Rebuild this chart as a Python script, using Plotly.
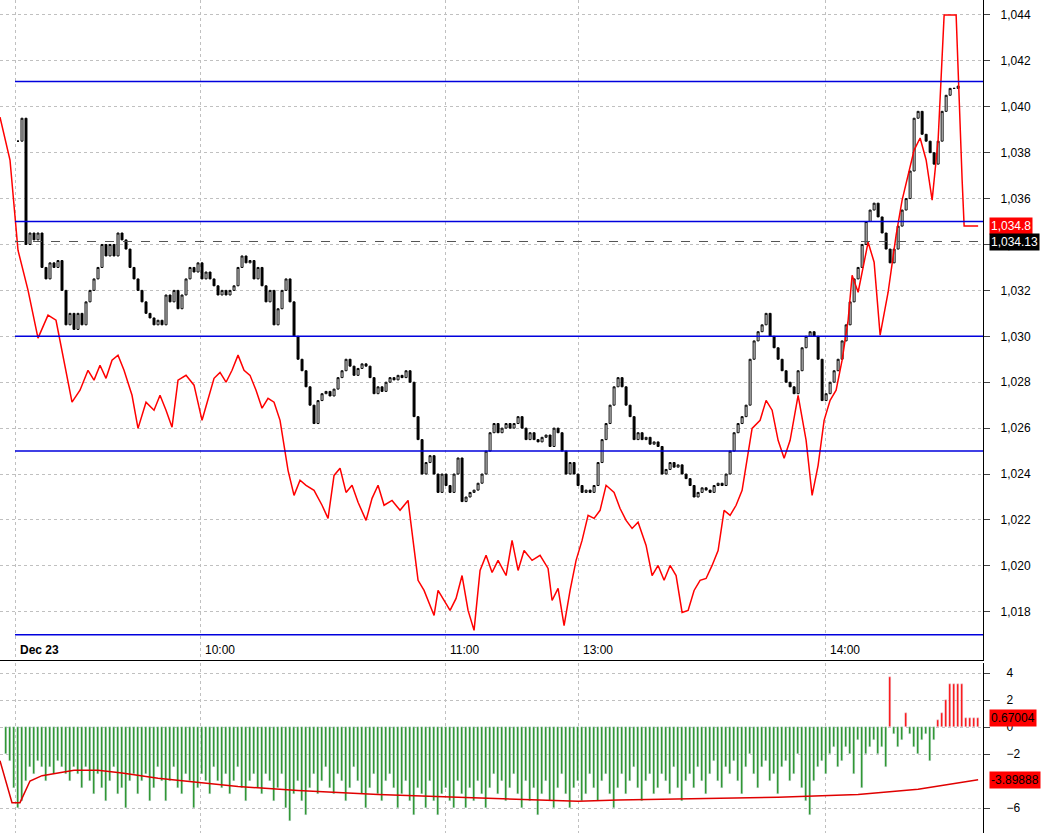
import plotly.graph_objects as go

# candle closes, one per bar (open = previous close)
closes = [1.0385, 1.0395, 1.0340, 1.0345, 1.0342, 1.0345, 1.0330, 1.0325, 1.0332, 1.0330,
          1.0333, 1.0320, 1.0305, 1.0310, 1.0303, 1.0310, 1.0305, 1.0315, 1.0320, 1.0325,
          1.0330, 1.0340, 1.0335, 1.0340, 1.0335, 1.0345, 1.0342, 1.0338, 1.0330, 1.0325,
          1.0320, 1.0315, 1.0310, 1.0308, 1.0305, 1.0307, 1.0305, 1.0318, 1.0315, 1.0320,
          1.0312, 1.0318, 1.0325, 1.0330, 1.0328, 1.0332, 1.0325, 1.0328, 1.0325, 1.0322,
          1.0318, 1.0320, 1.0318, 1.0320, 1.0322, 1.0330, 1.0335, 1.0332, 1.0333, 1.0325,
          1.0330, 1.0322, 1.0315, 1.0320, 1.0305, 1.0312, 1.0320, 1.0325, 1.0315, 1.0300,
          1.0290, 1.0285, 1.0278, 1.0270, 1.0262, 1.0272, 1.0275, 1.0276, 1.0274, 1.0277,
          1.0282, 1.0285, 1.0290, 1.0287, 1.0283, 1.0286, 1.0288, 1.0287, 1.0282, 1.0275,
          1.0278, 1.0276, 1.0280, 1.0282, 1.0281, 1.0283, 1.0282, 1.0285, 1.0280, 1.0265,
          1.0255, 1.0240, 1.0245, 1.0248, 1.0240, 1.0232, 1.0240, 1.0235, 1.0232, 1.0240,
          1.0247, 1.0228, 1.0230, 1.0232, 1.0233, 1.0236, 1.0240, 1.0250, 1.0258, 1.0262,
          1.0258, 1.0260, 1.0262, 1.0260, 1.0262, 1.0265, 1.0260, 1.0255, 1.0258, 1.0255,
          1.0254, 1.0256, 1.0257, 1.0252, 1.0260, 1.0258, 1.0250, 1.0240, 1.0245, 1.0240,
          1.0235, 1.0232, 1.0233, 1.0232, 1.0235, 1.0245, 1.0255, 1.0262, 1.0270, 1.0278,
          1.0282, 1.0278, 1.0270, 1.0265, 1.0255, 1.0258, 1.0255, 1.0256, 1.0253, 1.0254,
          1.0252, 1.0240, 1.0242, 1.0245, 1.0243, 1.0244, 1.0240, 1.0238, 1.0235, 1.0230,
          1.0232, 1.0234, 1.0233, 1.0232, 1.0235, 1.0236, 1.0235, 1.0240, 1.0250, 1.0258,
          1.0262, 1.0265, 1.0270, 1.0290, 1.0298, 1.0302, 1.0305, 1.0310, 1.0300, 1.0295,
          1.0290, 1.0285, 1.0280, 1.0278, 1.0275, 1.0285, 1.0295, 1.0300, 1.0302, 1.0300,
          1.0290, 1.0272, 1.0275, 1.0280, 1.0285, 1.0290, 1.0298, 1.0305, 1.0315, 1.0325,
          1.0330, 1.0340, 1.0350, 1.0355, 1.0358, 1.0352, 1.0345, 1.0338, 1.0332, 1.0338,
          1.0348, 1.0355, 1.0360, 1.0372, 1.0395, 1.0398, 1.0388, 1.0385, 1.0380, 1.0375,
          1.0385, 1.0398, 1.0405, 1.0408, 1.0408, 1.0409]

# red overlay line (bar index, price)
red_line = [(-4.5, 1.03955), (-2, 1.03768), (0, 1.03375), (2.5, 1.03201), (5, 1.02992),
            (7.5, 1.03092), (9.5, 1.0307), (11.5, 1.02896), (13.5, 1.02713), (15.5, 1.02765),
            (17.5, 1.02852), (19, 1.02809), (20.5, 1.02874), (22, 1.02817), (23.5, 1.02896),
            (25, 1.02918), (26.5, 1.02852), (28.5, 1.02743), (30, 1.02599), (32, 1.02713),
            (34, 1.02678), (35.5, 1.02743), (37, 1.02678), (38.5, 1.02604), (40, 1.02809),
            (42, 1.0283), (44, 1.02787), (46, 1.02634), (47.5, 1.02721), (49, 1.02817),
            (50.5, 1.02843), (52, 1.028), (53.5, 1.02852), (55, 1.02918), (56.5, 1.02852),
            (58, 1.0283), (59.5, 1.02765), (61, 1.02687), (62.5, 1.0273), (64, 1.02713),
            (65.5, 1.02634), (67.5, 1.02416), (69, 1.02307), (70.5, 1.02373), (72, 1.02351),
            (74, 1.02329), (76, 1.02264), (77.5, 1.02207), (79, 1.02394), (80.5, 1.02425),
            (82, 1.0232), (83.5, 1.02351), (85, 1.02277), (87, 1.02198), (88.5, 1.02294),
            (90, 1.02351), (91.5, 1.02264), (93.5, 1.02285), (95.5, 1.02242), (97.5, 1.02285),
            (99, 1.02076), (100, 1.01937), (101.5, 1.01893), (102.5, 1.01849), (104, 1.01784),
            (105, 1.01893), (106.5, 1.01849), (108, 1.01806), (109.5, 1.01858), (111, 1.01958),
            (112.5, 1.01806), (114, 1.01719), (115.5, 1.0198), (117, 1.02046), (118.5, 1.01971),
            (120, 1.02024), (122, 1.01958), (123.5, 1.02111), (125, 1.0198), (126.5, 1.02067),
            (128.5, 1.02024), (130.5, 1.02046), (132.5, 1.01989), (133.5, 1.01849), (135, 1.01902),
            (136.5, 1.0174), (138, 1.01893), (139.5, 1.02024), (141, 1.02111), (142.5, 1.0222),
            (144, 1.02207), (145.5, 1.02242), (147, 1.02351), (149, 1.0232), (150.5, 1.0225),
            (152, 1.02198), (153.5, 1.02163), (155, 1.0219), (157, 1.02089), (158.5, 1.01958),
            (160, 1.02002), (161.5, 1.01937), (163, 1.02002), (164.5, 1.01958), (166, 1.01797),
            (167.5, 1.01806), (169, 1.01893), (170.5, 1.01937), (172, 1.01945), (173.5, 1.02002),
            (175, 1.02067), (176.5, 1.02242), (178, 1.0222), (179.5, 1.02264), (181, 1.02329),
            (182.5, 1.02503), (183.5, 1.02599), (185.5, 1.02634), (187, 1.02721), (188.5, 1.02678),
            (190, 1.02547), (191.5, 1.02469), (193, 1.02547), (195, 1.02743), (197, 1.02547),
            (198.5, 1.02307), (200, 1.02438), (201.5, 1.02634), (203, 1.02721), (204.5, 1.02765),
            (206, 1.02896), (207.5, 1.0307), (208.5, 1.03266), (210, 1.03192), (211.5, 1.03323),
            (212.5, 1.0341), (214, 1.03323), (215.5, 1.03005), (217.5, 1.03192), (219.5, 1.03441),
            (221, 1.03593), (222.5, 1.03702), (224, 1.03811), (225.5, 1.03864), (227, 1.03768),
            (228.5, 1.03593), (230, 1.03855), (231.5, 1.044), (234.5, 1.044), (236, 1.03681),
            (236.5, 1.0348), (240, 1.0348)]

levels = [1.0411, 1.0350, 1.0300, 1.0250, 1.0170]
last_close = 1.03413

# histogram, bars from index -3
hist = [-2.0, -2.5, -4.5,
        -6.0, -5.5, -4.0, -3.0, -3.5, -2.5, -3.0, -4.0, -3.0, -3.5,
        -2.5, -3.0, -3.5, -4.0, -3.0, -3.5, -4.5, -3.0, -4.0, -5.0,
        -3.5, -4.5, -5.5, -4.0, -3.0, -5.0, -4.5, -6.0, -4.0, -3.5,
        -5.0, -4.0, -3.5, -5.5, -4.5, -3.0, -4.0, -5.5, -4.0, -3.0,
        -4.5, -5.0, -3.5, -4.0, -6.0, -4.5, -3.5, -4.0, -5.0, -3.0,
        -4.0, -4.5, -3.5, -5.0, -4.0, -3.0, -4.5, -5.5, -4.0, -3.5,
        -4.5, -5.0, -3.5, -4.0, -5.5, -4.5, -3.5, -6.0, -7.0, -5.0,
        -4.0, -5.5, -6.5, -4.5, -3.5, -5.0, -4.0, -3.0, -4.5, -5.0,
        -3.5, -4.0, -5.5, -4.5, -3.0, -4.0, -5.0, -6.0, -4.5, -3.5,
        -5.0, -5.5, -4.0, -3.5, -4.5, -6.0, -5.0, -4.0, -5.5, -6.5,
        -4.5, -5.0, -6.0, -4.0, -5.5, -6.5, -5.0, -4.5, -5.5, -6.0,
        -4.0, -5.0, -6.0, -4.5, -5.5, -4.0, -5.0, -6.0, -4.5, -3.5,
        -5.0, -4.0, -5.5, -4.5, -3.5, -5.0, -6.0, -4.0, -5.5, -4.5,
        -6.5, -5.0, -4.0, -5.5, -6.0, -4.5, -3.5, -5.0, -6.0, -4.5,
        -4.0, -5.5, -5.0, -3.5, -4.5, -5.5, -4.0, -3.5, -5.0, -6.0,
        -4.5, -3.5, -5.0, -4.0, -3.0, -4.5, -5.5, -4.0, -3.5, -5.0,
        -4.5, -3.5, -4.0, -5.0, -3.0, -4.5, -5.5, -4.0, -3.5, -4.5,
        -3.0, -4.0, -5.0, -3.5, -2.5, -4.0, -4.5, -3.0, -3.5, -2.5,
        -4.0, -5.0, -3.0, -2.0, -3.5, -4.5, -3.0, -2.5, -4.0, -3.5,
        -5.0, -3.0, -2.5, -4.0, -3.5, -2.0, -4.5, -5.5, -6.5, -4.0,
        -3.0, -2.5, -3.5, -2.0, -1.5, -3.0, -2.5, -1.5, -2.0, -3.5,
        -1.0, -4.5, -2.0, -1.5, -1.0, -2.0, -1.5, -3.0, 3.7, -0.5,
        -1.5, -1.0, 1.0, -0.5, -1.5, -2.0, -1.0, -0.5, -2.5, -1.0,
        0.5, 1.0, 2.0, 3.2, 3.2, 3.2,
        3.2, 0.67, 0.67, 0.67, 0.67]

signal = [(-4.5, -2.5), (-3, -4.0), (-1.5, -5.6), (0.5, -5.6), (3, -4.0), (6, -3.6),
          (10, -3.4), (14, -3.2), (20, -3.2), (26, -3.4), (35, -3.8), (45, -4.1),
          (55, -4.4), (70, -4.7), (90, -5.0), (110, -5.2), (130, -5.4), (140, -5.5),
          (150, -5.4), (170, -5.3), (190, -5.2), (210, -5.0), (225, -4.6), (240, -3.9)]

time_ticks = [-0.75, 45.5, 106.75, 140, 201.75]
time_labels = ["<b>Dec 23</b>", "10:00", "11:00", "13:00", "14:00"]

idx = list(range(len(closes)))
opens = [closes[0]] + closes[:-1]
highs = [max(o, c) for o, c in zip(opens, closes)]
lows = [min(o, c) for o, c in zip(opens, closes)]
hx = list(range(-3, -3 + len(hist)))

fig = go.Figure()
fig.add_trace(go.Candlestick(
    x=idx, open=opens, high=highs, low=lows, close=closes,
    increasing=dict(line=dict(color="black", width=1), fillcolor="white"),
    decreasing=dict(line=dict(color="black", width=1), fillcolor="black"),
    whiskerwidth=0, xaxis="x", yaxis="y", showlegend=False))
fig.add_trace(go.Scatter(x=[p[0] for p in red_line], y=[p[1] for p in red_line],
                         mode="lines", line=dict(color="#ff0000", width=1.5),
                         xaxis="x", yaxis="y", showlegend=False))
fig.add_trace(go.Bar(x=hx, y=hist, width=0.35,
                     marker_color=["#ff0000" if v > 0 else "#1a8c1a" for v in hist],
                     xaxis="x2", yaxis="y2", showlegend=False))
fig.add_trace(go.Scatter(x=[p[0] for p in signal], y=[p[1] for p in signal],
                         mode="lines", line=dict(color="#e00000", width=1.5),
                         xaxis="x2", yaxis="y2", showlegend=False))

xr = [-4.5, 241.25]
shapes = []
for lv in levels:
    shapes.append(dict(type="line", xref="x", yref="y", x0=-0.75, x1=xr[1], y0=lv, y1=lv,
                       line=dict(color="#0000dd", width=1.5)))
shapes.append(dict(type="line", xref="x", yref="y", x0=-0.75, x1=xr[1], y0=last_close,
                   y1=last_close, line=dict(color="#555555", width=1, dash="dash")))

grid = dict(showgrid=True, gridcolor="#c0c0c0", griddash="dot", gridwidth=1, automargin=False)
fig.update_layout(
    width=1047, height=833, margin=dict(l=0, r=0, t=0, b=0, autoexpand=False),
    paper_bgcolor="white", plot_bgcolor="white", separators=",.",
    font=dict(family="Liberation Sans", size=12, color="black"),
    bargap=0, shapes=shapes,
    xaxis=dict(domain=[0, 0.939], range=xr, tickvals=time_ticks, ticktext=[""] * 5,
               showline=True, linecolor="black", mirror=False, zeroline=False,
               rangeslider=dict(visible=False), anchor="y", **grid),
    yaxis=dict(domain=[0.2077, 1], range=[1.01590, 1.04465], side="right",
               tickvals=[1.018 + 0.002 * i for i in range(14)], tickformat=".3f",
               ticks="outside", ticklen=6, ticklabelstandoff=8, showline=True,
               linecolor="black", zeroline=False, anchor="x", **grid),
    xaxis2=dict(domain=[0, 0.939], range=xr, tickvals=time_ticks, showticklabels=False,
                zeroline=False, anchor="y2", **grid),
    yaxis2=dict(domain=[0, 0.204], range=[-7.85, 4.74], side="right",
                tickvals=[4, 2, 0, -2, -6], ticks="outside", ticklen=6,
                ticklabelstandoff=14, showline=True, linecolor="black",
                zeroline=False, anchor="x2", **grid),
)

ann = []
for t, lab in zip(time_ticks, time_labels):
    ann.append(dict(x=t, y=1.0159, xref="x", yref="y", text=lab, showarrow=False,
                    xanchor="left", yanchor="bottom", xshift=3, yshift=1))
boxes = [(1.0348, "y", "1,034.8", "#ff0000", "white"),
         (last_close, "y", "1,034.13", "black", "white"),
         (0.67004, "y2", "0.67004", "#ff0000", "black"),
         (-3.89888, "y2", "-3.89888", "#ff0000", "black")]
for yv, yref, txt, bg, fg in boxes:
    ann.append(dict(x=0.945, y=yv, xref="paper", yref=yref, text=txt, showarrow=False,
                    xanchor="left", yanchor="middle", bgcolor=bg,
                    font=dict(color=fg, size=12), borderpad=1))
fig.update_layout(annotations=ann)

fig.write_html("out.html", config={"displayModeBar": False},
               post_script="document.body.style.margin='0';")
